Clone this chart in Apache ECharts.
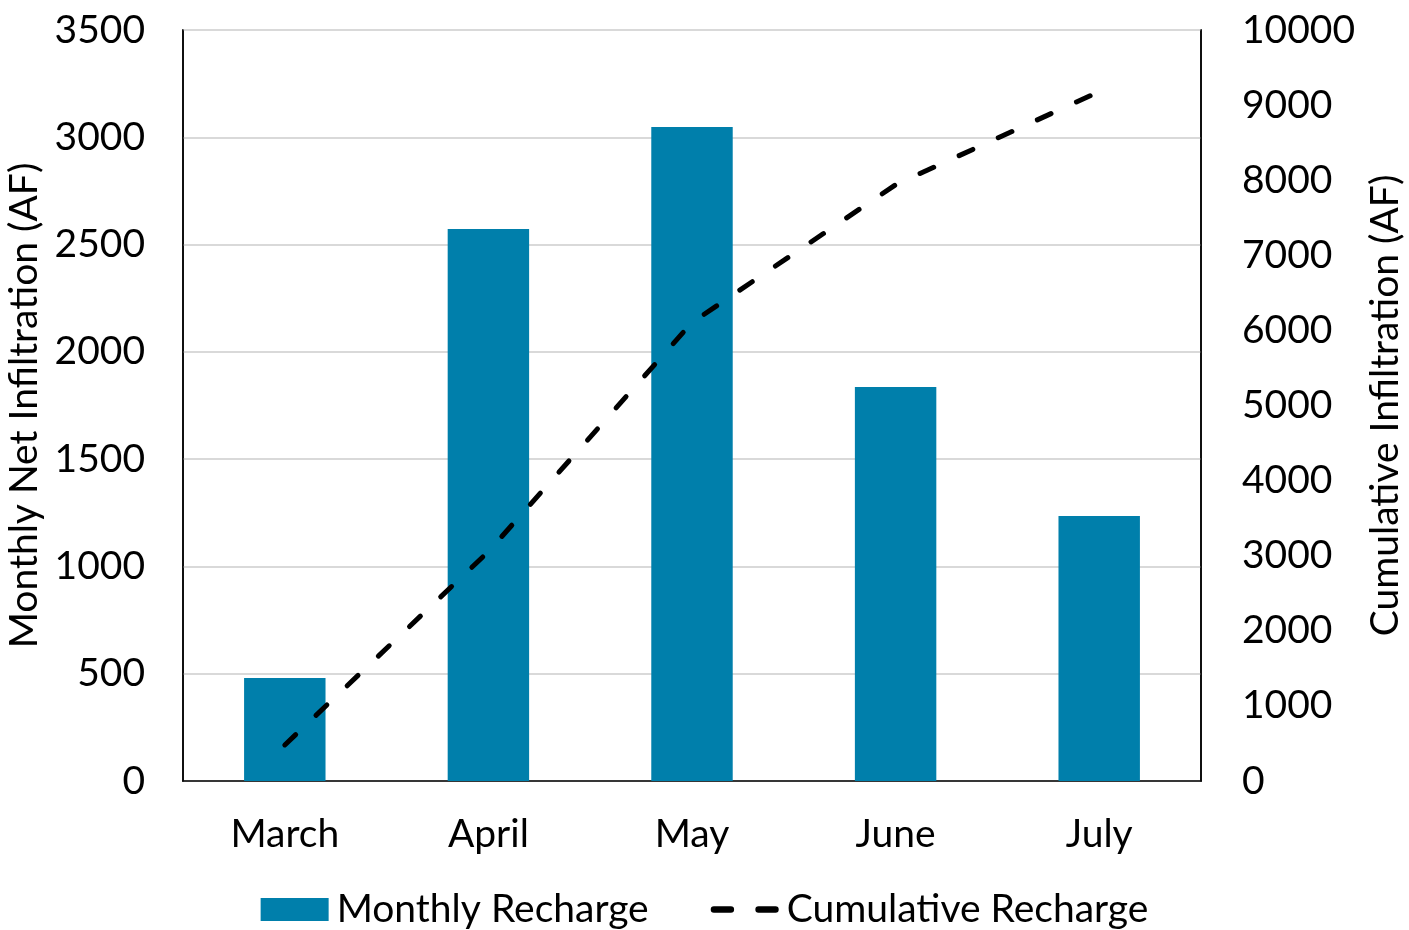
<!DOCTYPE html>
<html>
<head>
<meta charset="utf-8">
<style>
  html, body { margin: 0; padding: 0; background: #fff; }
  #chart { width: 1409px; height: 930px; }
</style>
<script src="https://cdn.jsdelivr.net/npm/echarts@6/dist/echarts.min.js"></script>
</head>
<body>
<div id="chart"></div>
<script>
// Months shown along the x axis
const months = ['March', 'April', 'May', 'June', 'July'];
// Monthly net infiltration (AF)
const monthlyRecharge = [480, 2573, 3048, 1836, 1235];
// Cumulative infiltration (AF)
const cumulativeRecharge = [480, 3055, 6105, 7940, 9180];
// Axis ranges
const leftAxisMax = 3500, leftAxisStep = 500;
const rightAxisMax = 10000, rightAxisStep = 1000;

const FONT = 'Lato, "Open Sans", sans-serif';
const FS = 39;
const plain = v => String(v);
// Legend key for the dashed line: two rounded dashes
const DASH_ICON = 'path://M3,0 H19 A3,3 0 0 1 19,6 H3 A3,3 0 0 1 3,0 Z ' +
                  'M45,0 H61 A3,3 0 0 1 61,6 H45 A3,3 0 0 1 45,0 Z';

const chart = echarts.init(document.getElementById('chart'));

chart.setOption({
  animation: false,
  textStyle: { fontFamily: FONT, color: '#000' },
  grid: {
    left: 183, right: 208, top: 30, bottom: 149,
    outerBoundsMode: 'none', containLabel: false,
    show: true, borderColor: '#000', borderWidth: 1.5, backgroundColor: 'transparent'
  },
  legend: {
    bottom: -4, left: 'center',
    itemWidth: 68, itemHeight: 23, itemGap: 62,
    symbolKeepAspect: true,
    textStyle: { fontFamily: FONT, fontSize: FS, color: '#000', padding: [0, 0, 0, 3] },
    data: [
      { name: 'Monthly Recharge', icon: 'rect' },
      { name: 'Cumulative Recharge', icon: DASH_ICON, itemStyle: { color: '#000', borderWidth: 0 } }
    ]
  },
  xAxis: {
    type: 'category',
    data: months,
    axisLine: { lineStyle: { color: '#000', width: 1.5 } },
    axisTick: { show: false },
    axisLabel: { fontFamily: FONT, fontSize: FS, color: '#000', margin: 34 }
  },
  yAxis: [
    {
      type: 'value', min: 0, max: leftAxisMax, interval: leftAxisStep,
      name: 'Monthly Net Infiltration (AF)', nameLocation: 'middle', nameGap: 133,
      nameTextStyle: { fontFamily: FONT, fontSize: FS, color: '#000' },
      axisLine: { show: true, lineStyle: { color: '#000', width: 1.5 } },
      axisTick: { show: false },
      axisLabel: { fontFamily: FONT, fontSize: FS, color: '#000', margin: 38, formatter: plain },
      splitLine: { lineStyle: { color: '#d9d9d9', width: 2 } }
    },
    {
      type: 'value', min: 0, max: rightAxisMax, interval: rightAxisStep,
      name: 'Cumulative Infiltration (AF)', nameLocation: 'middle', nameGap: 164,
      nameRotate: 90,
      nameTextStyle: { fontFamily: FONT, fontSize: FS, color: '#000' },
      axisLine: { show: true, lineStyle: { color: '#000', width: 1.5 } },
      axisTick: { show: false },
      axisLabel: { fontFamily: FONT, fontSize: FS, color: '#000', margin: 41, formatter: plain },
      splitLine: { show: false }
    }
  ],
  series: [
    {
      name: 'Monthly Recharge',
      type: 'bar',
      yAxisIndex: 0,
      data: monthlyRecharge,
      barWidth: '40%',
      itemStyle: { color: '#007fab' }
    },
    {
      name: 'Cumulative Recharge',
      type: 'line',
      yAxisIndex: 1,
      data: cumulativeRecharge,
      symbol: 'none',
      lineStyle: { color: '#000', width: 5, type: [15, 28], cap: 'round' },
      itemStyle: { color: '#000' }
    }
  ]
});
</script>
</body>
</html>
